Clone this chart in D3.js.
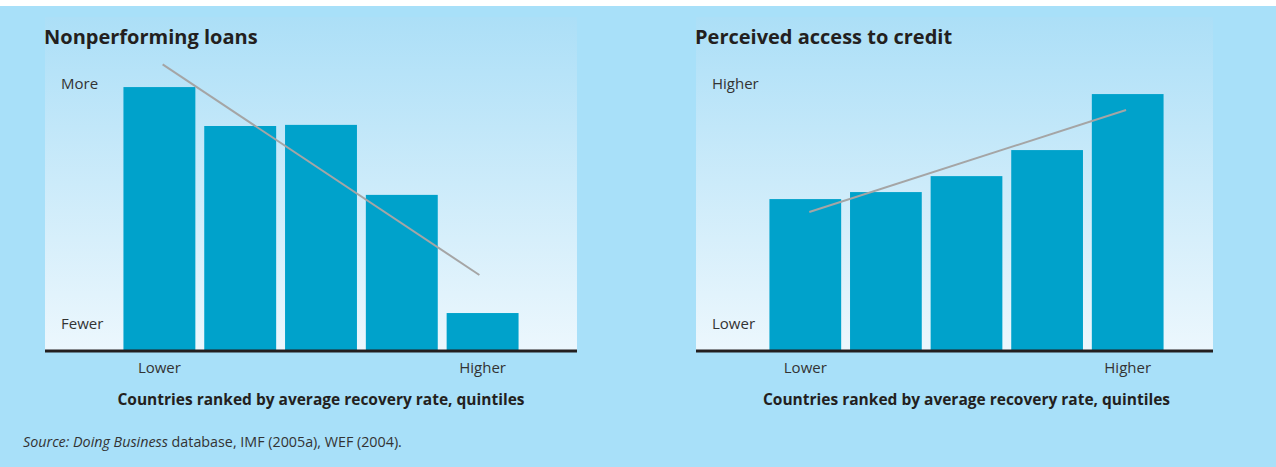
<!DOCTYPE html>
<html>
<head>
<meta charset="utf-8">
<script src="https://cdn.jsdelivr.net/npm/d3@7"></script>
<style>
  body { margin: 0; background: #fff; }
  text { font-family: "Open Sans", sans-serif; }
</style>
</head>
<body>
<script>
const quintiles = ["Q1", "Q2", "Q3", "Q4", "Q5"];
const xLabels = ["Lower", "Higher"];
const axisTitle = "Countries ranked by average recovery rate, quintiles";

// left panel: nonperforming loans (relative units)
const nplValues = [9.39, 8.0, 8.04, 5.54, 1.32];
const nplTrendX = [1.04, 4.96];
const nplTrendY = [10.2, 2.68];

// right panel: perceived access to credit (relative units)
const creditValues = [5.39, 5.64, 6.21, 7.14, 9.14];
const creditTrendX = [1.05, 4.98];
const creditTrendY = [4.93, 8.57];

const panels = [
  { title: "Nonperforming loans", yTop: "More", yBottom: "Fewer",
    values: nplValues, trendX: nplTrendX, trendY: nplTrendY,
    left: 45, right: 577, bandLeft: 119, bandRight: 523, gradId: "g1" },
  { title: "Perceived access to credit", yTop: "Higher", yBottom: "Lower",
    values: creditValues, trendX: creditTrendX, trendY: creditTrendY,
    left: 696, right: 1213, bandLeft: 765, bandRight: 1168, gradId: "g2" }
];

const W = 1276, H = 467;
const panelTop = 17, baseline = 350;

const svg = d3.select("body").append("svg")
    .attr("width", W)
    .attr("height", H);

svg.append("rect")
    .attr("x", 0).attr("y", 6)
    .attr("width", W).attr("height", H - 6)
    .attr("fill", "#a8e0f9");

const defs = svg.append("defs");

const y = d3.scaleLinear()
    .domain([0, 10])
    .range([baseline, 70]);

panels.forEach(p => {
  const grad = defs.append("linearGradient")
      .attr("id", p.gradId)
      .attr("x1", 0).attr("y1", 0).attr("x2", 0).attr("y2", 1);
  grad.append("stop").attr("offset", "0%").attr("stop-color", "#acdff7");
  grad.append("stop").attr("offset", "100%").attr("stop-color", "#ecf7fd");

  const g = svg.append("g");

  g.append("rect")
      .attr("x", p.left).attr("y", panelTop)
      .attr("width", p.right - p.left)
      .attr("height", baseline - panelTop)
      .attr("fill", "url(#" + p.gradId + ")");

  const x = d3.scaleBand()
      .domain(quintiles)
      .range([p.bandLeft, p.bandRight])
      .paddingInner(0.11)
      .paddingOuter(0.055);

  const xi = d3.scaleLinear()
      .domain([1, 5])
      .range([x(quintiles[0]) + x.bandwidth() / 2, x(quintiles[4]) + x.bandwidth() / 2]);

  g.selectAll(".bar")
      .data(p.values)
    .enter().append("rect")
      .attr("class", "bar")
      .attr("x", (d, i) => x(quintiles[i]))
      .attr("y", d => y(d))
      .attr("width", x.bandwidth())
      .attr("height", d => baseline - y(d))
      .attr("fill", "#00a2cb");

  g.append("line")
      .attr("x1", xi(p.trendX[0])).attr("y1", y(p.trendY[0]))
      .attr("x2", xi(p.trendX[1])).attr("y2", y(p.trendY[1]))
      .attr("stroke", "#a5a5a5")
      .attr("stroke-width", 2);

  g.append("line")
      .attr("x1", p.left).attr("x2", p.right)
      .attr("y1", baseline + 1).attr("y2", baseline + 1)
      .attr("stroke", "#231f20")
      .attr("stroke-width", 3);

  g.append("text")
      .attr("x", p.left - 1).attr("y", 44)
      .attr("font-size", 20)
      .attr("font-weight", "bold")
      .attr("fill", "#231f20")
      .text(p.title);

  g.append("text")
      .attr("x", p.left + 16).attr("y", 89)
      .attr("font-size", 15)
      .attr("fill", "#333")
      .text(p.yTop);

  g.append("text")
      .attr("x", p.left + 16).attr("y", 329)
      .attr("font-size", 15)
      .attr("fill", "#333")
      .text(p.yBottom);

  g.append("text")
      .attr("x", xi(1)).attr("y", 373)
      .attr("text-anchor", "middle")
      .attr("font-size", 15)
      .attr("fill", "#333")
      .text(xLabels[0]);

  g.append("text")
      .attr("x", xi(5)).attr("y", 373)
      .attr("text-anchor", "middle")
      .attr("font-size", 15)
      .attr("fill", "#333")
      .text(xLabels[1]);

  g.append("text")
      .attr("x", (p.bandLeft + p.bandRight) / 2).attr("y", 405)
      .attr("text-anchor", "middle")
      .attr("font-size", 15.5)
      .attr("font-weight", "bold")
      .attr("fill", "#231f20")
      .text(axisTitle);
});

const src = svg.append("text")
    .attr("x", 23).attr("y", 447)
    .attr("font-size", 14.3)
    .attr("fill", "#333");
src.append("tspan").attr("font-style", "italic").text("Source: Doing Business");
src.append("tspan").text(" database, IMF (2005a), WEF (2004).");
</script>
</body>
</html>
